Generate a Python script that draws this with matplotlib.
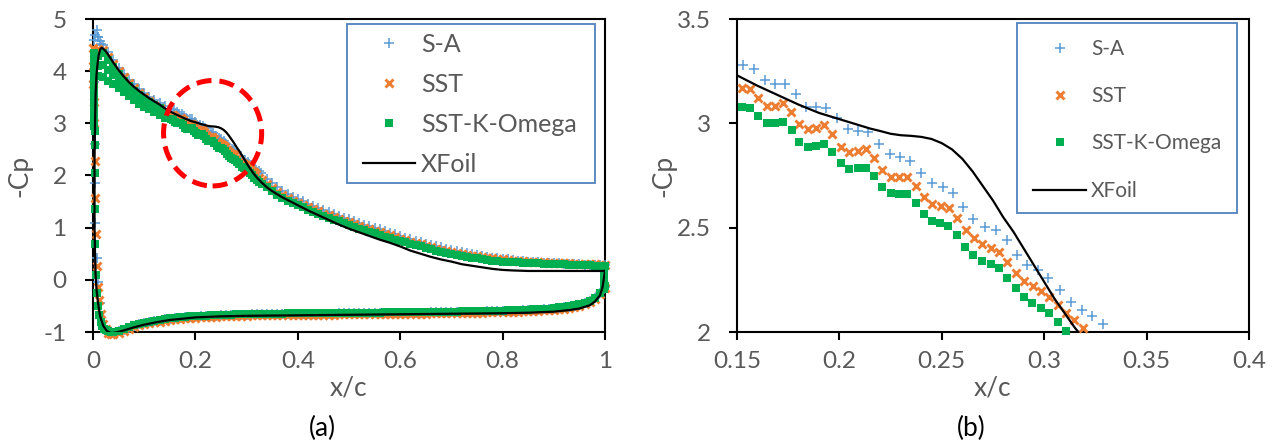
import matplotlib
matplotlib.use("Agg")
import matplotlib.pyplot as plt
from matplotlib.patches import Ellipse, Rectangle
from matplotlib.lines import Line2D

plt.rcParams['font.family'] = ['Lato', 'DejaVu Sans']
plt.rcParams['axes.unicode_minus'] = False

# ---------------- data ----------------
SERIES_NAMES = ['S-A', 'SST', 'SST-K-Omega', 'XFoil']

XL_TICKS = [0, 0.2, 0.4, 0.6, 0.8, 1.0]
XL_LABELS = ['0', '0.2', '0.4', '0.6', '0.8', '1']
YL_TICKS = [-1, 0, 1, 2, 3, 4, 5]
YL_LABELS = ['-1', '0', '1', '2', '3', '4', '5']
XR_TICKS = [0.15, 0.2, 0.25, 0.3, 0.35, 0.4]
XR_LABELS = ['0.15', '0.2', '0.25', '0.3', '0.35', '0.4']
YR_TICKS = [2, 2.5, 3, 3.5]
YR_LABELS = ['2', '2.5', '3', '3.5']

# XFoil curve: upper surface TE -> LE, then lower surface LE -> TE
XF_X = [1.0, 0.95, 0.9, 0.85, 0.82, 0.80, 0.78, 0.76, 0.74, 0.72, 0.70, 0.68, 0.66, 0.64,
        0.62, 0.60, 0.58, 0.56, 0.54, 0.52, 0.50, 0.48, 0.46, 0.44, 0.42, 0.40, 0.38, 0.37,
        0.36, 0.35, 0.34, 0.33, 0.32, 0.315, 0.31, 0.305, 0.30, 0.295, 0.29, 0.285, 0.28,
        0.275, 0.27, 0.265, 0.26, 0.255, 0.25, 0.245, 0.24, 0.235, 0.23, 0.225, 0.22, 0.215,
        0.21, 0.20, 0.19, 0.18, 0.17, 0.16, 0.15, 0.14, 0.13, 0.12, 0.11, 0.10, 0.09, 0.08,
        0.07, 0.06, 0.05, 0.04, 0.03, 0.025, 0.02, 0.017, 0.014, 0.011, 0.009, 0.007, 0.005,
        0.004, 0.003, 0.003, 0.003, 0.004, 0.005, 0.007, 0.010, 0.014, 0.020, 0.027, 0.035,
        0.045, 0.06, 0.08, 0.10, 0.125, 0.15, 0.20, 0.25, 0.30, 0.40, 0.50, 0.60, 0.70, 0.80,
        0.85, 0.90, 0.93, 0.95, 0.97, 0.98, 0.99, 0.995, 1.0]
XF_Y = [0.17, 0.17, 0.17, 0.17, 0.18, 0.19, 0.21, 0.24, 0.27, 0.30, 0.35, 0.39, 0.44, 0.50,
        0.56, 0.64, 0.71, 0.77, 0.84, 0.91, 0.98, 1.06, 1.15, 1.24, 1.33, 1.43, 1.53, 1.58,
        1.64, 1.70, 1.77, 1.86, 1.96, 2.02, 2.09, 2.16, 2.24, 2.32, 2.40, 2.48, 2.55,
        2.63, 2.70, 2.77, 2.83, 2.875, 2.905, 2.925, 2.935, 2.94, 2.943, 2.95, 2.963, 2.975,
        2.99, 3.02, 3.05, 3.09, 3.135, 3.18, 3.23, 3.29, 3.36, 3.42, 3.48, 3.55, 3.62, 3.70,
        3.79, 3.90, 4.02, 4.16, 4.31, 4.38, 4.43, 4.45, 4.42, 4.30, 4.15, 3.95, 3.55,
        3.0, 2.3, 1.6, 1.0, 0.5, 0.1, -0.2, -0.45, -0.70, -0.88, -0.98, -1.02,
        -1.01, -0.97, -0.91, -0.86, -0.81, -0.77, -0.72, -0.70, -0.69, -0.68, -0.67, -0.66, -0.65, -0.64,
        -0.63, -0.61, -0.58, -0.55, -0.49, -0.42, -0.30, -0.15, 0.17]

# shared chordwise sample positions
X_FWD = [0.01, 0.02, 0.03, 0.04, 0.05, 0.06, 0.07, 0.08, 0.09, 0.10, 0.11, 0.12, 0.13, 0.14]
X_AFT = [0.34, 0.35, 0.36, 0.37, 0.38, 0.39, 0.40, 0.41, 0.42, 0.43,
         0.44, 0.45, 0.46, 0.47, 0.48, 0.49, 0.50, 0.51, 0.52, 0.53,
         0.54, 0.55, 0.56, 0.57, 0.58, 0.59, 0.60, 0.61, 0.62, 0.63,
         0.64, 0.65, 0.66, 0.67, 0.68, 0.69, 0.70, 0.71, 0.72, 0.73,
         0.74, 0.75, 0.76, 0.77, 0.78, 0.79, 0.80, 0.81, 0.82, 0.83,
         0.84, 0.85, 0.86, 0.87, 0.88, 0.89, 0.90, 0.91, 0.92, 0.93,
         0.94, 0.95, 0.96, 0.97, 0.98, 0.99, 1.00]
X_LOW = [0.04, 0.05, 0.06, 0.07, 0.08, 0.09, 0.10, 0.11, 0.12, 0.13,
         0.14, 0.15, 0.16, 0.17, 0.18, 0.19, 0.20, 0.21, 0.22, 0.23,
         0.24, 0.25, 0.26, 0.27, 0.28, 0.29, 0.30, 0.31, 0.32, 0.33,
         0.34, 0.35, 0.36, 0.37, 0.38, 0.39, 0.40, 0.41, 0.42, 0.43,
         0.44, 0.45, 0.46, 0.47, 0.48, 0.49, 0.50, 0.51, 0.52, 0.53,
         0.54, 0.55, 0.56, 0.57, 0.58, 0.59, 0.60, 0.61, 0.62, 0.63,
         0.64, 0.65, 0.66, 0.67, 0.68, 0.69, 0.70, 0.71, 0.72, 0.73,
         0.74, 0.75, 0.76, 0.77, 0.78, 0.79, 0.80, 0.81, 0.82, 0.83,
         0.84, 0.85, 0.86, 0.87, 0.88, 0.89, 0.90, 0.91, 0.92, 0.93,
         0.94, 0.95, 0.96, 0.97, 0.98, 0.99, 1.00]

# ---- S-A ----
SA_LE_X = [0.002, 0.004, 0.007, 0.010, 0.013, 0.016, 0.002, 0.003, 0.004, 0.004, 0.007, 0.009,
           0.013, 0.018, 0.024, 0.030, 0.035]
SA_LE_Y = [4.60, 4.70, 4.79, 4.66, 4.58, 4.52, 3.80, 2.60, 1.85, 1.08, 0.41, -0.04,
           -0.45, -0.78, -0.93, -0.99, -1.01]
SA_FWD = [4.65, 4.50, 4.36, 4.21, 4.07, 3.95, 3.84, 3.75, 3.66, 3.58, 3.51, 3.45, 3.39, 3.33]
SA_MID_X = [0.1531, 0.1583, 0.1637, 0.1686, 0.1734, 0.1787, 0.1837, 0.1886, 0.1935, 0.1987,
            0.2040, 0.2092, 0.2141, 0.2193, 0.2247, 0.2296, 0.2345, 0.2397, 0.2454, 0.2504,
            0.2553, 0.2605, 0.2654, 0.2711, 0.2763, 0.2817, 0.2869, 0.2918, 0.2971, 0.3020,
            0.3077, 0.3129, 0.3183, 0.3235, 0.3286]
SA_MID_Y = [3.280, 3.259, 3.208, 3.188, 3.188, 3.139, 3.080, 3.080, 3.075, 3.024,
            2.973, 2.963, 2.957, 2.901, 2.853, 2.840, 2.820, 2.764, 2.716, 2.694,
            2.665, 2.598, 2.540, 2.505, 2.489, 2.441, 2.369, 2.321, 2.297, 2.258,
            2.201, 2.145, 2.106, 2.078, 2.039]
SA_AFT = [1.93, 1.85, 1.77, 1.70, 1.64, 1.59, 1.55, 1.51, 1.46, 1.42,
          1.38, 1.34, 1.30, 1.26, 1.23, 1.19, 1.16, 1.13, 1.09, 1.06,
          1.03, 1.00, 0.97, 0.93, 0.90, 0.87, 0.84, 0.81, 0.78, 0.75,
          0.72, 0.69, 0.67, 0.64, 0.62, 0.59, 0.57, 0.55, 0.53, 0.51,
          0.49, 0.47, 0.45, 0.44, 0.42, 0.41, 0.40, 0.39, 0.38, 0.37,
          0.36, 0.35, 0.35, 0.34, 0.33, 0.33, 0.32, 0.32, 0.31, 0.31,
          0.30, 0.30, 0.29, 0.29, 0.29, 0.28, 0.28]
SA_LOW = [-1.01, -0.99, -0.96, -0.92, -0.88, -0.85, -0.83, -0.81, -0.79, -0.78,
          -0.76, -0.75, -0.74, -0.73, -0.72, -0.71, -0.71, -0.70, -0.70, -0.69,
          -0.69, -0.68, -0.68, -0.68, -0.67, -0.67, -0.67, -0.66, -0.66, -0.66,
          -0.66, -0.66, -0.66, -0.66, -0.65, -0.65, -0.65, -0.65, -0.65, -0.65,
          -0.65, -0.65, -0.65, -0.65, -0.64, -0.64, -0.64, -0.64, -0.64, -0.64,
          -0.64, -0.64, -0.64, -0.63, -0.63, -0.63, -0.63, -0.63, -0.63, -0.63,
          -0.63, -0.63, -0.62, -0.62, -0.62, -0.62, -0.62, -0.62, -0.61, -0.61,
          -0.61, -0.61, -0.61, -0.60, -0.60, -0.60, -0.60, -0.59, -0.59, -0.59,
          -0.58, -0.58, -0.57, -0.57, -0.56, -0.56, -0.55, -0.54, -0.53, -0.52,
          -0.50, -0.48, -0.45, -0.41, -0.35, -0.26, -0.13]

# ---- SST ----
SST_LE_X = [0.000, 0.000, 0.000, 0.001, 0.002, 0.004, 0.004, 0.005, 0.007, 0.009, 0.012,
            0.016, 0.020, 0.025, 0.030, 0.035]
SST_LE_Y = [4.45, 4.10, 3.75, 3.40, 3.00, 2.28, 1.56, 0.87, 0.27, -0.13, -0.39,
            -0.65, -0.84, -0.95, -1.01, -1.03]
SST_FWD = [4.42, 4.40, 4.27, 4.13, 4.00, 3.88, 3.77, 3.67, 3.58, 3.50, 3.43, 3.36, 3.29, 3.22]
SST_MID_X = [0.1523, 0.1563, 0.1604, 0.1648, 0.1686, 0.1723, 0.1764, 0.1804, 0.1845, 0.1886,
             0.1925, 0.1965, 0.2008, 0.2048, 0.2089, 0.2130, 0.2170, 0.2210, 0.2250, 0.2291,
             0.2332, 0.2373, 0.2413, 0.2454, 0.2496, 0.2535, 0.2576, 0.2617, 0.2657, 0.2698,
             0.2739, 0.2779, 0.2820, 0.2862, 0.2903, 0.2944, 0.2984, 0.3025, 0.3066, 0.3106,
             0.3145, 0.3191, 0.3250, 0.3300]
SST_MID_Y = [3.168, 3.165, 3.123, 3.083, 3.083, 3.096, 3.056, 2.997, 2.971, 2.979,
             2.992, 2.949, 2.888, 2.864, 2.869, 2.877, 2.832, 2.776, 2.744, 2.744,
             2.744, 2.701, 2.646, 2.614, 2.604, 2.593, 2.548, 2.489, 2.449, 2.420,
             2.404, 2.385, 2.337, 2.284, 2.245, 2.221, 2.197, 2.169, 2.130, 2.090,
             2.058, 2.021, 1.955, 1.915]
SST_AFT = [1.84, 1.76, 1.69, 1.63, 1.57, 1.52, 1.48, 1.44, 1.39, 1.35,
           1.31, 1.27, 1.24, 1.20, 1.17, 1.13, 1.10, 1.07, 1.03, 1.00,
           0.97, 0.94, 0.91, 0.88, 0.85, 0.82, 0.79, 0.76, 0.73, 0.70,
           0.68, 0.65, 0.63, 0.60, 0.58, 0.56, 0.54, 0.52, 0.50, 0.48,
           0.46, 0.45, 0.43, 0.42, 0.41, 0.40, 0.39, 0.38, 0.37, 0.37,
           0.36, 0.35, 0.35, 0.34, 0.34, 0.33, 0.33, 0.32, 0.32, 0.32,
           0.31, 0.31, 0.30, 0.30, 0.30, 0.29, 0.29]
SST_LOW = [-1.03, -1.01, -0.98, -0.94, -0.90, -0.87, -0.85, -0.83, -0.81, -0.80,
           -0.78, -0.77, -0.76, -0.75, -0.74, -0.73, -0.73, -0.72, -0.72, -0.71,
           -0.71, -0.70, -0.70, -0.70, -0.69, -0.69, -0.69, -0.68, -0.68, -0.68,
           -0.68, -0.68, -0.68, -0.68, -0.67, -0.67, -0.67, -0.67, -0.67, -0.67,
           -0.67, -0.67, -0.67, -0.67, -0.66, -0.66, -0.66, -0.66, -0.66, -0.66,
           -0.66, -0.66, -0.66, -0.65, -0.65, -0.65, -0.65, -0.65, -0.65, -0.65,
           -0.65, -0.65, -0.64, -0.64, -0.64, -0.64, -0.64, -0.64, -0.63, -0.63,
           -0.63, -0.63, -0.63, -0.62, -0.62, -0.62, -0.62, -0.61, -0.61, -0.61,
           -0.60, -0.60, -0.59, -0.59, -0.58, -0.58, -0.57, -0.56, -0.55, -0.54,
           -0.52, -0.50, -0.47, -0.43, -0.37, -0.28, -0.15]

# ---- SST-K-Omega ----
KO_LE_X = [0.002, 0.001, 0.001, 0.001, 0.001, 0.001, 0.001, 0.001, 0.001, 0.001,
           0.001, 0.001, 0.001, 0.001, 0.002, 0.003, 0.003, 0.003, 0.003, 0.004,
           0.005, 0.007, 0.009, 0.012, 0.015, 0.018, 0.022, 0.026, 0.030, 0.035]
KO_LE_Y = [4.35, 4.25, 4.15, 4.05, 3.95, 3.85, 3.75, 3.65, 3.55, 3.45,
           3.35, 3.25, 3.15, 3.05, 2.95, 2.85, 2.58, 2.04, 1.35, 0.68,
           0.10, -0.26, -0.50, -0.68, -0.80, -0.88, -0.94, -0.97, -0.99, -1.00]
KO_FWD_TOP = [4.30, 4.35, 4.22, 4.08, 3.94, 3.82, 3.71, 3.62, 3.54, 3.47, 3.41, 3.35, 3.29, 3.22]
KO_FWD_MID = [4.10, 4.12, 4.02, 3.92, 3.81, 3.71, 3.62, 3.53, 3.46, 3.40, 3.34, 3.28, 3.22, 3.16]
KO_FWD_BOT = [3.90, 3.88, 3.82, 3.75, 3.68, 3.60, 3.52, 3.45, 3.38, 3.32, 3.27, 3.21, 3.16, 3.11]
KO_MID_X = [0.1523, 0.1563, 0.1604, 0.1645, 0.1686, 0.1726, 0.1767, 0.1804, 0.1845, 0.1886,
            0.1927, 0.1965, 0.2006, 0.2048, 0.2089, 0.2130, 0.2169, 0.2210, 0.2250, 0.2291,
            0.2332, 0.2373, 0.2413, 0.2454, 0.2492, 0.2532, 0.2576, 0.2613, 0.2654, 0.2698,
            0.2739, 0.2779, 0.2820, 0.2861, 0.2903, 0.2942, 0.2984, 0.3025, 0.3066, 0.3106,
            0.3150, 0.3200, 0.3250, 0.3300]
KO_MID_Y = [3.080, 3.072, 3.035, 3.000, 3.000, 3.008, 2.968, 2.912, 2.885, 2.893,
            2.901, 2.861, 2.809, 2.783, 2.785, 2.788, 2.748, 2.696, 2.665, 2.661,
            2.661, 2.617, 2.566, 2.532, 2.524, 2.508, 2.465, 2.406, 2.369, 2.340,
            2.325, 2.305, 2.260, 2.212, 2.169, 2.141, 2.117, 2.090, 2.050, 2.005,
            1.955, 1.920, 1.880, 1.840]
KO_AFT = [1.77, 1.70, 1.63, 1.57, 1.52, 1.47, 1.43, 1.39, 1.34, 1.30,
          1.26, 1.22, 1.19, 1.15, 1.12, 1.08, 1.05, 1.02, 0.98, 0.95,
          0.92, 0.89, 0.86, 0.83, 0.80, 0.77, 0.74, 0.72, 0.69, 0.66,
          0.64, 0.61, 0.59, 0.56, 0.54, 0.52, 0.50, 0.48, 0.46, 0.44,
          0.42, 0.41, 0.39, 0.38, 0.37, 0.36, 0.35, 0.35, 0.34, 0.34,
          0.33, 0.33, 0.32, 0.32, 0.31, 0.31, 0.30, 0.30, 0.30, 0.29,
          0.29, 0.28, 0.28, 0.28, 0.27, 0.27, 0.27]
KO_LOW = [-1.00, -0.98, -0.95, -0.91, -0.87, -0.84, -0.82, -0.80, -0.78, -0.77,
          -0.75, -0.74, -0.73, -0.72, -0.71, -0.70, -0.70, -0.69, -0.69, -0.68,
          -0.68, -0.67, -0.67, -0.67, -0.66, -0.66, -0.66, -0.65, -0.65, -0.65,
          -0.65, -0.65, -0.65, -0.65, -0.64, -0.64, -0.64, -0.64, -0.64, -0.64,
          -0.64, -0.64, -0.64, -0.64, -0.63, -0.63, -0.63, -0.63, -0.63, -0.63,
          -0.63, -0.63, -0.63, -0.62, -0.62, -0.62, -0.62, -0.62, -0.62, -0.62,
          -0.62, -0.62, -0.61, -0.61, -0.61, -0.61, -0.61, -0.61, -0.60, -0.60,
          -0.60, -0.60, -0.60, -0.59, -0.59, -0.59, -0.59, -0.58, -0.58, -0.58,
          -0.57, -0.57, -0.56, -0.56, -0.55, -0.55, -0.54, -0.53, -0.52, -0.51,
          -0.49, -0.47, -0.44, -0.40, -0.34, -0.25, -0.12]
KO_TE_X = [0.999, 0.999, 0.999, 0.999, 0.999, 0.999]
KO_TE_Y = [0.22, 0.14, 0.06, -0.02, -0.10, -0.18]

# ---------------- assemble ----------------
for a, b in [(SA_LE_X, SA_LE_Y), (SST_LE_X, SST_LE_Y), (KO_LE_X, KO_LE_Y),
             (SA_MID_X, SA_MID_Y), (SST_MID_X, SST_MID_Y), (KO_MID_X, KO_MID_Y),
             (XF_X, XF_Y), (KO_TE_X, KO_TE_Y)]:
    assert len(a) == len(b), (len(a), len(b))
for arr in [SA_FWD, SST_FWD, KO_FWD_TOP, KO_FWD_MID, KO_FWD_BOT]:
    assert len(arr) == len(X_FWD)
for arr in [SA_AFT, SST_AFT, KO_AFT]:
    assert len(arr) == len(X_AFT), len(arr)
for arr in [SA_LOW, SST_LOW, KO_LOW]:
    assert len(arr) == len(X_LOW), len(arr)

sa_x = SA_LE_X + X_FWD + SA_MID_X + X_AFT + X_LOW
sa_y = SA_LE_Y + SA_FWD + SA_MID_Y + SA_AFT + SA_LOW
sst_x = SST_LE_X + X_FWD + SST_MID_X + X_AFT + X_LOW
sst_y = SST_LE_Y + SST_FWD + SST_MID_Y + SST_AFT + SST_LOW
ko_x = KO_LE_X + X_FWD * 3 + KO_MID_X + X_AFT + X_LOW + KO_TE_X
ko_y = KO_LE_Y + KO_FWD_TOP + KO_FWD_MID + KO_FWD_BOT + KO_MID_Y + KO_AFT + KO_LOW + KO_TE_Y

SA_STYLE = dict(ls='none', marker='+', color='#5B9BD5', ms=6.5, mew=1.1)
SST_STYLE = dict(ls='none', marker='x', color='#ED7D31', ms=5.5, mew=2.1)
KO_STYLE = dict(ls='none', marker='s', color='#00B050', ms=6.2, mew=0)
XF_STYLE = dict(color='black', lw=1.6)
GREY = '#595959'

W, H = 1277, 448
fig = plt.figure(figsize=(W / 100, H / 100), dpi=100)


def px_axes(x0, y0, x1, y1):
    return fig.add_axes([x0 / W, 1 - y1 / H, (x1 - x0) / W, (y1 - y0) / H])


axL = px_axes(93, 19, 605, 332)
axR = px_axes(737, 19, 1249, 332)


def style_axes(ax, xt, xl, yt, yl, xlim, ylim):
    ax.set_xlim(*xlim)
    ax.set_ylim(*ylim)
    ax.set_xticks(xt)
    ax.set_xticklabels(xl)
    ax.set_yticks(yt)
    ax.set_yticklabels(yl)
    for s in ax.spines.values():
        s.set_linewidth(1.5)
        s.set_color('black')
    ax.tick_params(direction='out', length=6, width=1.5, color='black',
                   labelcolor=GREY, labelsize=17.5)
    ax.tick_params(axis='x', pad=8)
    ax.tick_params(axis='y', pad=13)
    ax.set_xlabel('x/c', fontsize=19, color=GREY)
    ax.set_ylabel('-Cp', fontsize=19, color=GREY)
    ax.xaxis.set_label_coords(0.5, -0.179)
    ax.xaxis.label.set_va('center')
    ax.yaxis.set_label_coords(-0.1426, 0.5)
    ax.yaxis.label.set_va('center')


style_axes(axL, XL_TICKS, XL_LABELS, YL_TICKS, YL_LABELS, (0, 1), (-1, 5))
style_axes(axR, XR_TICKS, XR_LABELS, YR_TICKS, YR_LABELS, (0.15, 0.4), (2, 3.5))

# left panel: full distribution
axL.plot(sa_x, sa_y, clip_on=False, zorder=3, **SA_STYLE)
axL.plot(sst_x, sst_y, clip_on=False, zorder=4, **SST_STYLE)
axL.plot(ko_x, ko_y, clip_on=False, zorder=5, **KO_STYLE)
axL.plot(XF_X, XF_Y, zorder=6, **XF_STYLE)

# highlighted region
axL.add_patch(Ellipse((0.2336, 2.81), 0.1916, 2.02, fill=False, ec='#FF0000', lw=3.6,
                      ls=(0, (3.0, 1.6)), zorder=8, clip_on=False))


# right panel: zoom on the same data
def in_range(xs, ys, xlim=(0.15, 0.4), ylim=(2.0, 3.5)):
    pts = [(x, y) for x, y in zip(xs, ys) if xlim[0] <= x <= xlim[1] and ylim[0] <= y <= ylim[1]]
    return [p[0] for p in pts], [p[1] for p in pts]


axR.plot(*in_range(sa_x, sa_y), clip_on=False, zorder=3, **SA_STYLE)
axR.plot(*in_range(sst_x, sst_y), clip_on=False, zorder=4, **SST_STYLE)
axR.plot(*in_range(ko_x, ko_y), clip_on=False, zorder=5, **KO_STYLE)
axR.plot(XF_X, XF_Y, zorder=6, **XF_STYLE)


# legends (drawn in figure pixels)
def draw_legend(box, rows, mx, lx, tx, fs):
    x0, y0, x1, y1 = box
    fig.add_artist(Rectangle((x0 / W, 1 - y1 / H), (x1 - x0) / W, (y1 - y0) / H,
                             transform=fig.transFigure, fill=True, fc='white',
                             ec='#4F81BD', lw=1.3, zorder=10))
    styles = [SA_STYLE, SST_STYLE, KO_STYLE]
    cap = 0.7165 * fs * 100 / 72
    for i, name in enumerate(SERIES_NAMES):
        ry = rows[i]
        if i < 3:
            fig.add_artist(Line2D([mx / W], [1 - ry / H], transform=fig.transFigure,
                                  zorder=11, **styles[i]))
        else:
            fig.add_artist(Line2D([lx[0] / W, lx[1] / W], [1 - ry / H] * 2,
                                  transform=fig.transFigure, zorder=11, **XF_STYLE))
        fig.text(tx / W, 1 - (ry + cap / 2) / H, name, fontsize=fs, color=GREY,
                 ha='left', va='baseline', zorder=12)


draw_legend((347, 24, 595, 183), [43, 83, 123, 163], 389, (363, 415), 421, 18)
draw_legend((1017, 23, 1237, 213), [48, 95, 142, 190], 1060, (1033, 1086), 1091, 15)

fig.text(322 / W, 1 - 428 / H, '(a)', fontsize=19, color='black', ha='center', va='center')
fig.text(971 / W, 1 - 428 / H, '(b)', fontsize=19, color='black', ha='center', va='center')

fig.savefig('out.png', dpi=100)
